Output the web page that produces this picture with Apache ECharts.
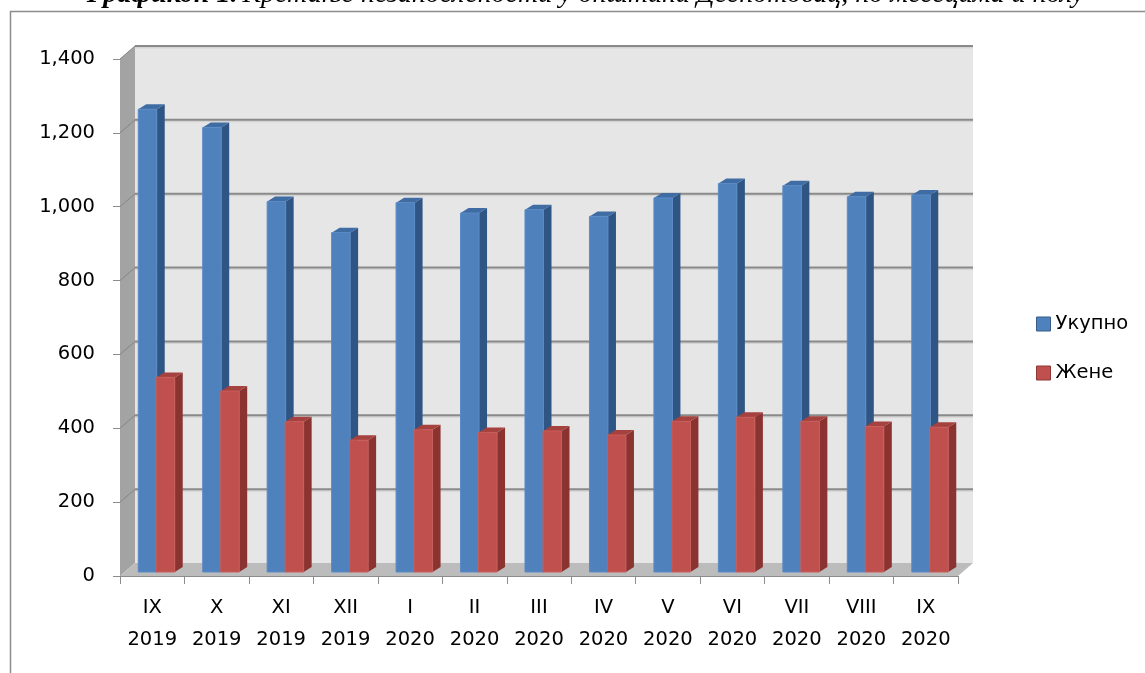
<!DOCTYPE html>
<html>
<head>
<meta charset="utf-8">
<script src="https://cdn.jsdelivr.net/npm/echarts@6/dist/echarts.min.js"></script>
<style>
html,body{margin:0;padding:0;background:#fff;}
#chart{width:1145px;height:673px;}
</style>
</head>
<body>
<div id="chart"></div>
<script>
// ---- data ----
const categories = ['IX\n2019','X\n2019','XI\n2019','XII\n2019','I\n2020','II\n2020','III\n2020','IV\n2020','V\n2020','VI\n2020','VII\n2020','VIII\n2020','IX\n2020'];
const seriesNames = ['Укупно', 'Жене'];
const totalValues = [1253, 1204, 1003, 919, 1000, 972, 981, 963, 1013, 1052, 1046, 1016, 1021];
const womenValues = [527, 490, 407, 357, 385, 378, 382, 371, 408, 419, 408, 394, 392];
const yTickValues = [0, 200, 400, 600, 800, 1000, 1200, 1400];
const titleBold = 'Графикон 1.';
const titleRest = 'Кретање незапослености у општини Деспотовац, по месецима и полу';

// ---- pseudo-3D helpers ----
const WALL_DX = 15, WALL_DY = -13;   // depth offset of back wall
const BAR_DX = 4.5, BAR_DY = -4;     // plane of bars
const BAR_DEPTH_X = 8, BAR_DEPTH_Y = -5;

function renderWalls(params, api) {
  const cs = params.coordSys;
  const x0 = cs.x, x1 = cs.x + cs.width, yt = cs.y, yb = cs.y + cs.height;
  const children = [];
  children.push({type:'rect', shape:{x:x0+WALL_DX, y:yt+WALL_DY, width:cs.width, height:cs.height},
    style:{fill:'#e6e6e6'}});
  children.push({type:'polygon', shape:{points:[[x0,yt],[x0+WALL_DX,yt+WALL_DY],[x0+WALL_DX,yb+WALL_DY],[x0,yb]]},
    style:{fill:'#a3a3a3'}});
  children.push({type:'polygon', shape:{points:[[x0,yb],[x0+WALL_DX,yb+WALL_DY],[x1+WALL_DX,yb+WALL_DY],[x1,yb]]},
    style:{fill:'#bcbcbc'}});
  yTickValues.forEach(function (v) {
    if (v === 0) return;
    const y = api.coord([0, v])[1];
    children.push({type:'line', shape:{x1:x0+WALL_DX, y1:y+WALL_DY+1.5, x2:x1+WALL_DX, y2:y+WALL_DY+1.5},
      style:{stroke:'rgba(0,0,0,0.08)', lineWidth:2}});
    children.push({type:'line', shape:{x1:x0+WALL_DX, y1:y+WALL_DY, x2:x1+WALL_DX, y2:y+WALL_DY},
      style:{stroke:'#8a8a8a', lineWidth:2}});
    children.push({type:'line', shape:{x1:x0, y1:y, x2:x0+WALL_DX, y2:y+WALL_DY},
      style:{stroke:'#858585', lineWidth:1}});
  });
  return {type:'group', children:children};
}

function makeBarRenderer(slot, front, side, top, edge) {
  return function (params, api) {
    const i = api.value(0), v = api.value(1);
    const pTop = api.coord([i, v]);
    const pBase = api.coord([i, 0]);
    const bw = api.size([1, 0])[0];
    const w = bw * 0.287;
    const c = pTop[0] + BAR_DX;
    const x = slot === 0 ? c - w : c - 0.5;
    const yT = pTop[1] + BAR_DY, yB = pBase[1] + BAR_DY;
    const dx = BAR_DEPTH_X, dy = BAR_DEPTH_Y;
    return {type:'group', children:[
      {type:'polygon', shape:{points:[[x+w,yT],[x+w+dx,yT+dy],[x+w+dx,yB+dy],[x+w,yB]]}, style:{fill:side}},
      {type:'polygon', shape:{points:[[x,yT],[x+dx,yT+dy],[x+w+dx,yT+dy],[x+w,yT]]}, style:{fill:top}},
      {type:'rect', shape:{x:x, y:yT, width:w, height:yB-yT}, style:{fill:front, stroke:edge, lineWidth:1}}
    ]};
  };
}

const chart = echarts.init(document.getElementById('chart'), null, {renderer:'canvas'});
const FONT = 'DejaVu Sans';
chart.setOption({
  animation:false,
  backgroundColor:'#ffffff',
  title:{
    text:'{b|' + titleBold + '} {i|' + titleRest + '}',
    left:82, top:-24,
    textStyle:{rich:{
      b:{fontFamily:'Liberation Serif', fontStyle:'italic', fontWeight:'bold', fontSize:28, color:'#000'},
      i:{fontFamily:'Liberation Serif', fontStyle:'italic', fontWeight:'normal', fontSize:28, color:'#000'}
    }}
  },
  graphic:[
    {type:'rect', left:8, top:9, shape:{x:0, y:0, width:1300, height:800}, style:{fill:null, stroke:'#8c8c8c', lineWidth:1.5}, z:-10, silent:true}
  ],
  legend:{
    orient:'vertical', left:1031, top:309,
    itemWidth:14, itemHeight:14, itemGap:29,
    icon:'rect',
    textStyle:{fontFamily:FONT, fontSize:19.5, color:'#000'},
    data:[
      {name:seriesNames[0], itemStyle:{color:'#4F81BD', borderColor:'#385D8A', borderWidth:1}},
      {name:seriesNames[1], itemStyle:{color:'#C0504D', borderColor:'#8C3836', borderWidth:1}}
    ]
  },
  grid:{left:120, top:59, width:838, height:517},
  xAxis:{
    type:'category', data:categories, boundaryGap:true,
    axisLine:{show:true, lineStyle:{color:'#8c8c8c', width:1}},
    axisTick:{show:true, length:8, lineStyle:{color:'#8c8c8c'}},
    axisLabel:{interval:0, fontFamily:FONT, fontSize:19.5, lineHeight:32, color:'#000', margin:16}
  },
  yAxis:{
    type:'value', min:0, max:1400, interval:200,
    axisLine:{show:true, lineStyle:{color:'#8c8c8c', width:1}},
    axisTick:{show:true, length:7, lineStyle:{color:'#8c8c8c'}},
    splitLine:{show:false},
    axisLabel:{fontFamily:FONT, fontSize:19.5, color:'#000', margin:25,
      formatter:function(v){ return v.toLocaleString('en-US'); }}
  },
  series:[
    {type:'custom', name:'walls', silent:true, z:1, data:[[0,0]], encode:{x:0,y:1}, renderItem:renderWalls},
    {type:'custom', name:seriesNames[0], z:2, itemStyle:{color:'#4F81BD'},
      data:totalValues.map(function(v,i){return [i,v];}), encode:{x:0,y:1},
      renderItem:makeBarRenderer(0, '#4F81BD', '#2F5584', '#3F6CA3', '#5A8BC6')},
    {type:'custom', name:seriesNames[1], z:3, itemStyle:{color:'#C0504D'},
      data:womenValues.map(function(v,i){return [i,v];}), encode:{x:0,y:1},
      renderItem:makeBarRenderer(1, '#C0504D', '#8A3331', '#A5413E', '#C75E5B')}
  ]
});
</script>
</body>
</html>
